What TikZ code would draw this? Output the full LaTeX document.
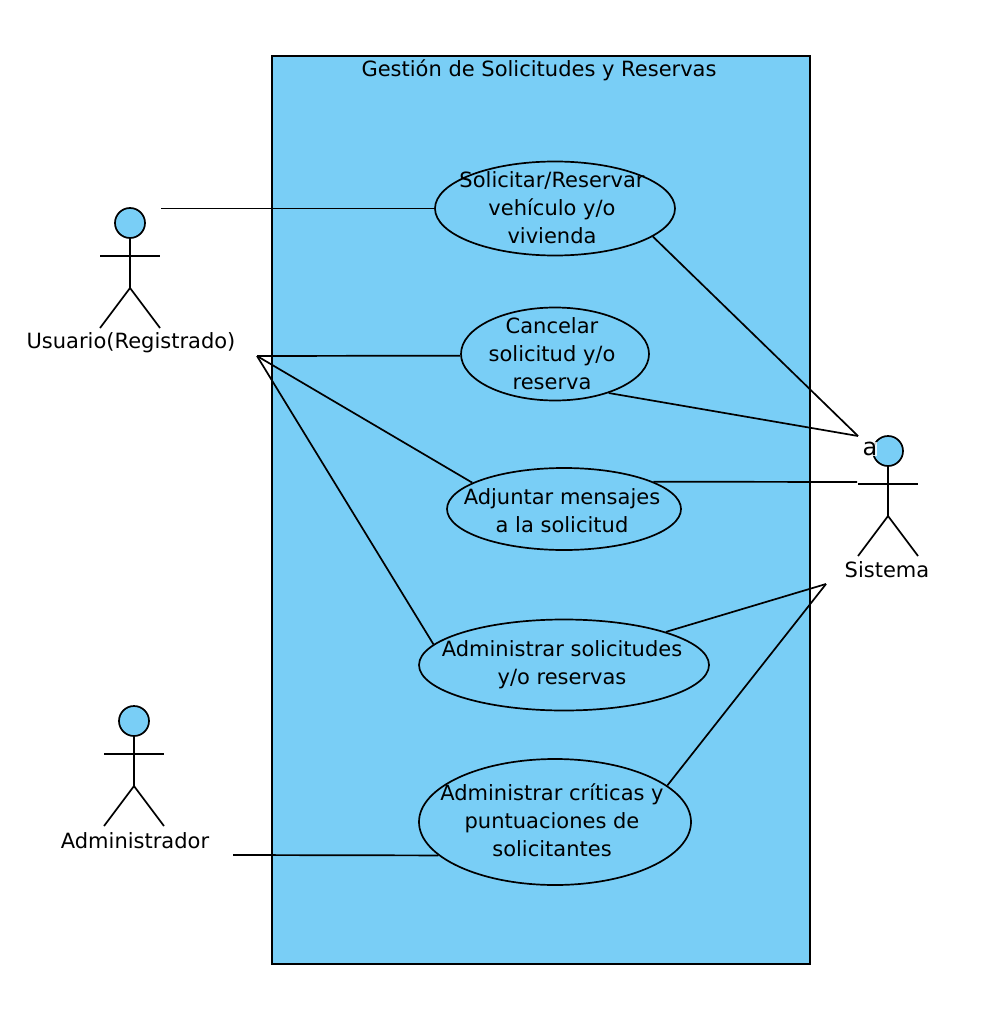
\documentclass[tikz,border=0pt]{standalone}
\usepackage{fontspec}
\setmainfont{DejaVu Sans}
\usetikzlibrary{shapes.geometric}
\definecolor{umlblue}{HTML}{79CEF6}
\tikzset{
  usecase/.style={ellipse, draw, fill=umlblue, inner sep=0pt},
  lbl/.style={inner sep=0pt, align=center, font=\fontsize{21}{28}\selectfont},
  head/.style={circle, draw, fill=umlblue, inner sep=0pt, minimum size=30pt}
}
\newcommand{\stickman}[3]{%
  \node[head] (#1) at (#2, #3) {};
  \draw (#1.south) -- (#2, #3+65);
  \draw (#2-30, #3+33) -- (#2+30, #3+33);
  \draw (#2-30, #3+105) -- (#2, #3+65) -- (#2+30, #3+105);
}
\begin{document}
\begin{tikzpicture}[x=1pt, y=-1pt, line width=1.7pt]
      \useasboundingbox (0, 0) rectangle (1006, 1016);

      \node[draw, fill=umlblue, minimum width=538pt, minimum height=908pt, inner sep=0pt] (system) at (541, 510) {};
      \node[lbl] (title) at (539, 70) {Gestión de Solicitudes y Reservas};

      \node[usecase, minimum width=240pt, minimum height=94pt] (solicitar) at (555, 208.5) {};
      \node[usecase, minimum width=188pt, minimum height=93pt] (cancelar) at (555, 354) {};
      \node[usecase, minimum width=234pt, minimum height=82pt] (adjuntar) at (564, 509) {};
      \node[usecase, minimum width=290pt, minimum height=91pt] (solicitudes) at (564, 665) {};
      \node[usecase, minimum width=272pt, minimum height=126pt] (criticas) at (555, 822) {};

      \node[lbl] (solicitarlbl) at (552, 208) {Solicitar/Reservar\\vehículo y/o\\vivienda};
      \node[lbl] (cancelarlbl) at (552, 354) {Cancelar\\solicitud y/o\\reserva};
      \node[lbl] (adjuntarlbl) at (562, 511) {Adjuntar mensajes\\a la solicitud};
      \node[lbl] (solicitudeslbl) at (562, 665) {Administrar solicitudes\\y/o reservas};
      \node[lbl] (criticaslbl) at (552, 820) {Administrar críticas y\\puntuaciones de\\solicitantes};

      \stickman{usuario}{130}{223}
      \stickman{administrador}{134}{721}
      \stickman{sistema}{888}{451}

      \node[lbl] (usuariolbl) at (131, 343) {Usuario(Registrado)};
      \node[lbl] (administradorlbl) at (135, 841) {Administrador};
      \node[lbl] (sistemalbl) at (887, 570) {Sistema};
      \node[lbl, fill=white, fill opacity=0.8, text opacity=1, font=\fontsize{24}{24}\selectfont] (sistemaa) at (870, 449) {a};

      \coordinate (u1) at (161, 208.5);
      \coordinate (u2) at (257, 356);
      \coordinate (a1) at (233, 855);
      \coordinate (s1) at (858, 436);
      \coordinate (s2) at (857, 482);
      \coordinate (s3) at (826, 584);

      \draw (u1) -- (solicitar.180);
      \draw (u2) -- (cancelar.181);
      \draw (u2) -- (adjuntar.164);
      \draw (u2) -- (solicitudes.171);
      \draw (a1) -- (criticas.196);
      \draw (solicitar.344) -- (s1);
      \draw (cancelar.324) -- (s1);
      \draw (adjuntar.17) -- (s2);
      \draw (solicitudes.18) -- (s3);
      \draw (criticas.18) -- (s3);
    \end{tikzpicture}
\end{document}
